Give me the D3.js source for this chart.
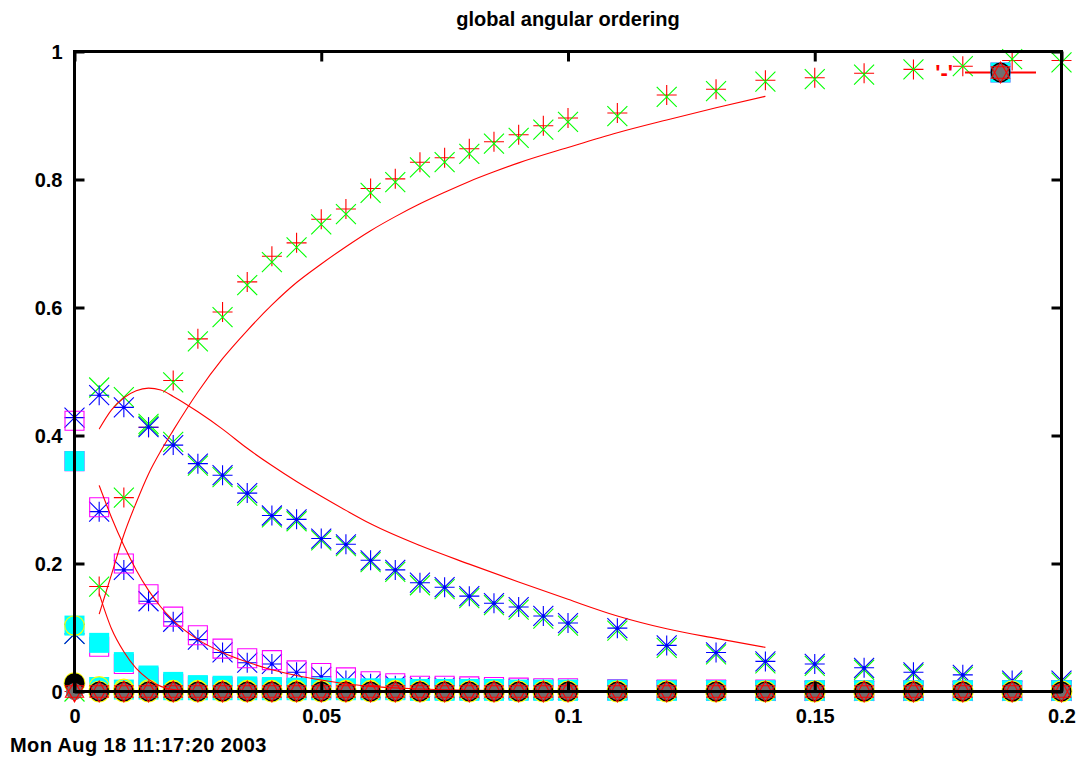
<!DOCTYPE html>
<html>
<head>
<meta charset="utf-8">
<script src="https://cdn.jsdelivr.net/npm/d3@7"></script>
<style>
  html, body { margin: 0; padding: 0; background: #ffffff; }
  svg text { font-family: "Liberation Sans", Arial, Helvetica, sans-serif; font-weight: bold; font-size: 20px; fill: #000; }
</style>
</head>
<body>
<svg id="chart" width="1080" height="759"></svg>
<script>
// ---- data ----------------------------------------------------------------
const titleText = "global angular ordering";
const stampText = "Mon Aug 18 11:17:20 2003";
const keyLabel = "'-'";

const xTicks = [0, 0.05, 0.1, 0.15, 0.2];
const xTickLabels = ["0", "0.05", "0.1", "0.15", "0.2"];
const yTicks = [0, 0.2, 0.4, 0.6, 0.8, 1];
const yTickLabels = ["0", "0.2", "0.4", "0.6", "0.8", "1"];

const xValues = [0, 0.005, 0.01, 0.015, 0.02, 0.025, 0.03, 0.035, 0.04, 0.045, 0.05, 0.055, 0.06, 0.065, 0.07, 0.075, 0.08, 0.085, 0.09, 0.095, 0.1, 0.11, 0.12, 0.13, 0.14, 0.15, 0.16, 0.17, 0.18, 0.19, 0.2];

// ordered state (rising)
const riseRed   = [0, 0.164, 0.303, 0.413, 0.486, 0.551, 0.593, 0.640, 0.680, 0.701, 0.738, 0.754, 0.786, 0.801, 0.827, 0.834, 0.848, 0.859, 0.870, 0.884, 0.896, 0.904, 0.932, 0.941, 0.955, 0.959, 0.966, 0.972, 0.977, 0.986, 0.986];
const riseGreen = [0, 0.164, 0.303, 0.418, 0.483, 0.547, 0.585, 0.635, 0.671, 0.694, 0.730, 0.746, 0.779, 0.796, 0.819, 0.827, 0.840, 0.856, 0.865, 0.878, 0.890, 0.899, 0.929, 0.938, 0.953, 0.957, 0.964, 0.972, 0.977, 0.988, 0.983];
// second state (slow decay)
const fallGreen = [0.09, 0.475, 0.460, 0.415, 0.390, 0.353, 0.335, 0.306, 0.272, 0.266, 0.236, 0.227, 0.202, 0.187, 0.166, 0.160, 0.146, 0.135, 0.128, 0.114, 0.103, 0.095, 0.068, 0.058, 0.044, 0.040, 0.034, 0.027, 0.023, 0.014, 0.014];
const fallBlue  = [0.09, 0.463, 0.444, 0.413, 0.385, 0.356, 0.338, 0.310, 0.275, 0.269, 0.239, 0.230, 0.205, 0.190, 0.170, 0.163, 0.149, 0.138, 0.132, 0.118, 0.107, 0.099, 0.072, 0.061, 0.047, 0.043, 0.037, 0.030, 0.026, 0.017, 0.017];
// third state (fast decay)
const decayBlue    = [0.428, 0.281, 0.190, 0.141, 0.109, 0.081, 0.061, 0.045, 0.043, 0.030, 0.023, 0.017, 0.012, 0.009, 0.007, 0.006, 0.005, 0.004, 0.004, 0.003, 0.003, 0.002, 0.002, 0.002, 0.001, 0.001, 0.001, 0.001, 0.001, 0.001, 0.001];
const decayMagenta = [0.423, 0.288, 0.200, 0.152, 0.117, 0.088, 0.067, 0.052, 0.049, 0.033, 0.029, 0.022, 0.016, 0.013, 0.009, 0.009, 0.008, 0.007, 0.006, 0.005, 0.005, 0.004, 0.003, 0.003, 0.003, 0.002, 0.002, 0.002, 0.002, 0.002, 0.002];
// fourth state
const tailMagenta = [0.360, 0.070, 0.043, 0.022, 0.012, 0.008, 0.007, 0.006, 0.005, 0.005, 0.004, 0.004, 0.004, 0.003, 0.003, 0.003, 0.003, 0.003, 0.002, 0.002, 0.002, 0.002, 0.002, 0.001, 0.001, 0.001, 0.001, 0.001, 0.001, 0.001, 0.001];
const tailCyan    = [0.360, 0.076, 0.046, 0.025, 0.015, 0.010, 0.009, 0.008, 0.007, 0.006, 0.006, 0.005, 0.005, 0.005, 0.004, 0.004, 0.004, 0.004, 0.003, 0.003, 0.003, 0.003, 0.002, 0.002, 0.002, 0.002, 0.002, 0.002, 0.002, 0.002, 0.002];
// fifth state
const edgeCyan   = [0.103, 0.007, 0.003, 0.003, 0.002, 0.002, 0.002, 0.002, 0.002, 0.002, 0.002, 0.002, 0.002, 0.002, 0.001, 0.001, 0.001, 0.001, 0.001, 0.001, 0.001, 0.001, 0.001, 0.001, 0.001, 0.001, 0.001, 0.001, 0.001, 0.001, 0.001];
const edgeYellow = [0.103, 0.008, 0.004, 0.003, 0.002, 0.002, 0.002, 0.002, 0.002, 0.002, 0.002, 0.002, 0.002, 0.002, 0.001, 0.001, 0.001, 0.001, 0.001, 0.001, 0.001, 0.001, 0.001, 0.001, 0.001, 0.001, 0.001, 0.001, 0.001, 0.001, 0.001];
// higher states, all near zero
const baseYellow = [0.013, 0, 0, 0, 0, 0, 0, 0, 0, 0, 0, 0, 0, 0, 0, 0, 0, 0, 0, 0, 0, 0, 0, 0, 0, 0, 0, 0, 0, 0, 0];
const baseBlack  = [0.013, 0, 0, 0, 0, 0, 0, 0, 0, 0, 0, 0, 0, 0, 0, 0, 0, 0, 0, 0, 0, 0, 0, 0, 0, 0, 0, 0, 0, 0, 0];
const baseGray   = [0, 0, 0, 0, 0, 0, 0, 0, 0, 0, 0, 0, 0, 0, 0, 0, 0, 0, 0, 0, 0, 0, 0, 0, 0, 0, 0, 0, 0, 0, 0];
const baseTriUp  = [0, 0, 0, 0, 0, 0, 0, 0, 0, 0, 0, 0, 0, 0, 0, 0, 0, 0, 0, 0, 0, 0, 0, 0, 0, 0, 0, 0, 0, 0, 0];
const baseTriDn  = [0, 0, 0, 0, 0, 0, 0, 0, 0, 0, 0, 0, 0, 0, 0, 0, 0, 0, 0, 0, 0, 0, 0, 0, 0, 0, 0, 0, 0, 0, 0];

// fitted curves, given as sampled [x, y] pairs
const fitRise = [[0.005, 0.121], [0.0075, 0.183], [0.01, 0.245], [0.0125, 0.295], [0.015, 0.34], [0.0175, 0.376], [0.02, 0.408], [0.025, 0.468], [0.03, 0.52], [0.035, 0.564], [0.04, 0.604], [0.045, 0.639], [0.05, 0.668], [0.055, 0.695], [0.06, 0.72], [0.065, 0.742], [0.07, 0.762], [0.075, 0.78], [0.08, 0.797], [0.085, 0.812], [0.09, 0.826], [0.1, 0.85], [0.11, 0.873], [0.12, 0.893], [0.13, 0.912], [0.14, 0.93]];
const fitHump = [[0.005, 0.41], [0.0075, 0.44], [0.01, 0.459], [0.0125, 0.47], [0.015, 0.474], [0.0175, 0.471], [0.02, 0.461], [0.025, 0.437], [0.03, 0.41], [0.035, 0.38], [0.04, 0.353], [0.045, 0.328], [0.05, 0.305], [0.055, 0.283], [0.06, 0.262], [0.07, 0.228], [0.08, 0.199], [0.09, 0.171], [0.1, 0.144], [0.11, 0.118], [0.12, 0.098], [0.13, 0.083], [0.14, 0.069]];
const fitDecay = [[0.005, 0.322], [0.0075, 0.272], [0.01, 0.228], [0.0125, 0.19], [0.015, 0.158], [0.0175, 0.132], [0.02, 0.111], [0.025, 0.081], [0.03, 0.061], [0.035, 0.046], [0.04, 0.034], [0.045, 0.025], [0.05, 0.018], [0.055, 0.012], [0.06, 0.008], [0.07, 0.004], [0.08, 0.002], [0.1, 0.001], [0.14, 0]];
const fitSteep = [[0.005, 0.153], [0.0075, 0.098], [0.01, 0.062], [0.0125, 0.036], [0.015, 0.019], [0.0175, 0.008], [0.02, 0.003], [0.025, 0.001], [0.14, 0]];

// ---- layout --------------------------------------------------------------
const W = 1080, H = 759;
const plotLeft = 74.5, plotRight = 1061.5, plotTop = 51.5, plotBottom = 691.5;
const svg = d3.select("#chart");
svg.append("rect").attr("width", W).attr("height", H).attr("fill", "#fff");

const x = d3.scaleLinear().domain([0, 0.2]).range([plotLeft, plotRight]);
const y = d3.scaleLinear().domain([0, 1]).range([plotBottom, plotTop]);

// ---- point glyphs --------------------------------------------------------
const R = 10;
const glyph = {
  plus:  s => `M${-s},0H${s}M0,${-s}V${s}`,
  cross: s => `M${-s},${-s}L${s},${s}M${-s},${s}L${s},${-s}`,
  star:  s => `M${-s},0H${s}M0,${-s}V${s}M${-s},${-s}L${s},${s}M${-s},${s}L${s},${-s}`,
  square: s => `M${-s},${-s}H${s}V${s}H${-s}Z`,
  triUp: s => `M0,${-s}L${0.87 * s},${0.55 * s}L${-0.87 * s},${0.55 * s}Z`,
  triDn: s => `M0,${s}L${0.87 * s},${-0.55 * s}L${-0.87 * s},${-0.55 * s}Z`
};

const layers = [
  { values: riseRed,      shape: "plus",   size: R,   stroke: "#ff0000" },
  { values: riseGreen,    shape: "cross",  size: R,   stroke: "#00ff00" },
  { values: fallGreen,    shape: "cross",  size: R,   stroke: "#00ff00" },
  { values: fallBlue,     shape: "star",   size: R,   stroke: "#0000ff", dot: true },
  { values: decayBlue,    shape: "star",   size: R,   stroke: "#0000ff", dot: true },
  { values: decayMagenta, shape: "square", size: 9.5, stroke: "#ff00ff" },
  { values: tailMagenta,  shape: "square", size: 9.5, stroke: "#ff00ff" },
  { values: tailCyan,     shape: "square", size: 10,  fill: "#00ffff" },
  { values: edgeCyan,     shape: "square", size: 10,  fill: "#00ffff" },
  { values: edgeYellow,   shape: "circle", size: 9.8, stroke: "#ffff00" },
  { values: baseYellow,   shape: "circle", size: 10.3, stroke: "#ffff00" },
  { values: baseBlack,    shape: "circle", size: 10,  fill: "#000000" },
  { values: baseGray,     shape: "circle", size: 8.6, fill: "#707070" },
  { values: baseTriUp,    shape: "triUp",  size: 10.5, stroke: "#ff0000" },
  { values: baseTriDn,    shape: "triDn",  size: 10.5, stroke: "#ff0000" }
];

function drawGlyph(g, layer, cx, cy) {
  let el;
  if (layer.shape === "circle") {
    el = g.append("circle").attr("cx", cx).attr("cy", cy).attr("r", layer.size);
  } else {
    el = g.append("path").attr("transform", `translate(${cx},${cy})`).attr("d", glyph[layer.shape](layer.size));
  }
  el.attr("fill", layer.fill || "none")
    .attr("stroke", layer.stroke || "none")
    .attr("stroke-width", 1.1);
  if (layer.dot) {
    g.append("circle").attr("cx", cx).attr("cy", cy).attr("r", 1.6).attr("fill", layer.stroke);
  }
}

const pointsG = svg.append("g").attr("class", "points");
layers.forEach(layer => {
  const lg = pointsG.append("g");
  layer.values.forEach((v, i) => drawGlyph(lg, layer, x(xValues[i]), y(v)));
});

// ---- fitted curves -------------------------------------------------------
const fitLine = d3.line().x(d => x(d[0])).y(d => y(d[1])).curve(d3.curveMonotoneX);
const curvesG = svg.append("g").attr("class", "fits");
[fitRise, fitHump, fitDecay, fitSteep].forEach(c => {
  curvesG.append("path").attr("d", fitLine(c)).attr("fill", "none")
    .attr("stroke", "#ff0000").attr("stroke-width", 1.1);
});

// ---- frame and axes ------------------------------------------------------
const axisG = svg.append("g").attr("class", "axes");
const tickLen = 10;

const axisL = d3.axisLeft(y).tickValues(yTicks).tickFormat((d, i) => yTickLabels[i])
  .tickSizeInner(-tickLen).tickSizeOuter(0).tickPadding(12);
const axisR = d3.axisRight(y).tickValues(yTicks).tickFormat("")
  .tickSizeInner(-tickLen).tickSizeOuter(0);
const axisB = d3.axisBottom(x).tickValues(xTicks).tickFormat((d, i) => xTickLabels[i])
  .tickSizeInner(-tickLen).tickSizeOuter(0).tickPadding(17);
const axisT = d3.axisTop(x).tickValues(xTicks).tickFormat("")
  .tickSizeInner(-tickLen).tickSizeOuter(0);

function styleAxis(sel) {
  sel.select(".domain").remove();
  sel.selectAll(".tick line").attr("stroke", "#000").attr("stroke-width", 3);
  sel.selectAll(".tick text")
    .attr("font-family", null).attr("font-size", null)
    .style("font-family", '"Liberation Sans", Arial, Helvetica, sans-serif')
    .style("font-weight", "bold").style("font-size", "20px").attr("fill", "#000");
}

axisG.append("g").attr("transform", `translate(${plotLeft},0)`).call(axisL).call(styleAxis)
  .selectAll(".tick text").attr("dy", "0.35em");
axisG.append("g").attr("transform", `translate(${plotRight},0)`).call(axisR).call(styleAxis);
axisG.append("g").attr("transform", `translate(0,${plotBottom})`).call(axisB).call(styleAxis)
  .selectAll(".tick text").attr("dy", "0.71em");
axisG.append("g").attr("transform", `translate(0,${plotTop})`).call(axisT).call(styleAxis);

axisG.append("rect")
  .attr("x", plotLeft).attr("y", plotTop)
  .attr("width", plotRight - plotLeft).attr("height", plotBottom - plotTop)
  .attr("fill", "none").attr("stroke", "#000").attr("stroke-width", 3);

// ---- key -----------------------------------------------------------------
const keyG = svg.append("g").attr("class", "key");
const keyY = 72.5;
keyG.append("text").attr("x", 953).attr("y", keyY + 7).attr("text-anchor", "end")
  .style("fill", "#ff0000").style("font-size", "22px").text(keyLabel);
keyG.append("line").attr("x1", 965).attr("x2", 1036).attr("y1", keyY).attr("y2", keyY)
  .attr("stroke", "#ff0000").attr("stroke-width", 2);
[layers[6], layers[8], layers[11], layers[12], layers[13], layers[14]].forEach(l => drawGlyph(keyG, l, 1000.5, keyY));

// ---- titles --------------------------------------------------------------
svg.append("text").attr("x", (plotLeft + plotRight) / 2).attr("y", 26)
  .attr("text-anchor", "middle").text(titleText);
svg.append("text").attr("x", 10).attr("y", 752).style("letter-spacing", "0.4px").text(stampText);
</script>
</body>
</html>
